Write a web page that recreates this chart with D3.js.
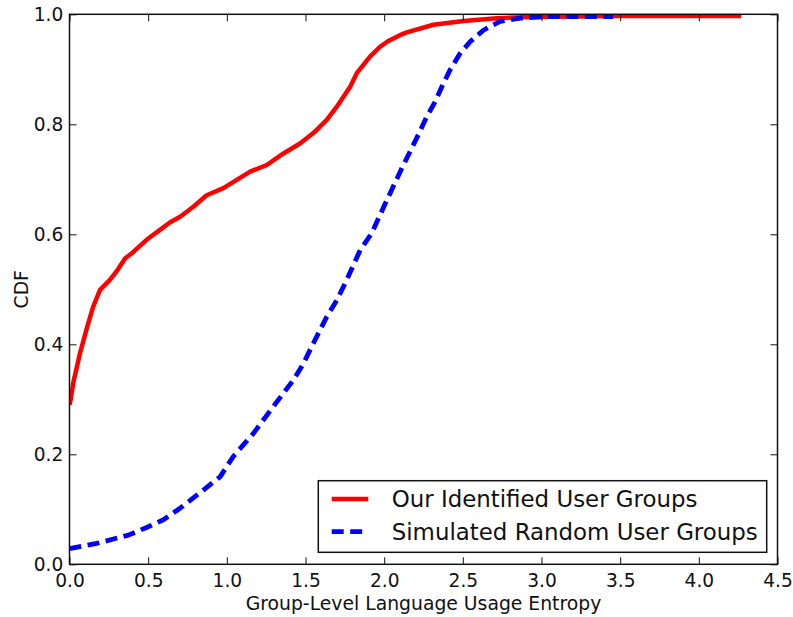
<!DOCTYPE html>
<html>
<head>
<meta charset="utf-8">
<script src="https://cdn.jsdelivr.net/npm/d3@7"></script>
<style>
  html, body { margin: 0; padding: 0; background: #fff; }
  svg { display: block; font-family: "DejaVu Sans", sans-serif; }
</style>
</head>
<body>
<svg id="chart" width="793" height="617"></svg>
<script>
// Empirical CDF of group-level language usage entropy
const seriesNames = ["Our Identified User Groups", "Simulated Random User Groups"];

const identifiedX = [0, 0.008, 0.024, 0.067, 0.113, 0.15, 0.194, 0.257, 0.3, 0.353, 0.406, 0.49, 0.575, 0.64,
  0.703, 0.787, 0.872, 0.978, 1.063, 1.148, 1.254, 1.36, 1.465, 1.55, 1.635, 1.699, 1.783, 1.826,
  1.91, 1.974, 2.03, 2.1, 2.144, 2.313, 2.504, 2.716, 2.93, 3.5, 4.27];
const identifiedY = [0.29, 0.30, 0.33, 0.384, 0.432, 0.468, 0.499, 0.517, 0.533, 0.556, 0.568, 0.59, 0.608, 0.622,
  0.632, 0.65, 0.671, 0.684, 0.699, 0.714, 0.726, 0.747, 0.765, 0.784, 0.808, 0.832, 0.868, 0.893,
  0.923, 0.941, 0.952, 0.962, 0.967, 0.981, 0.988, 0.993, 0.995, 0.997, 0.997];

const randomX = [0, 0.008, 0.173, 0.374, 0.49, 0.597, 0.703, 0.851, 0.957, 1.041, 1.169, 1.296, 1.423, 1.487,
  1.55, 1.635, 1.699, 1.762, 1.847, 1.921, 2.012, 2.112, 2.217, 2.271, 2.324, 2.366, 2.419, 2.483,
  2.546, 2.631, 2.737, 2.864, 3.034, 3.455];
const randomY = [0.028, 0.029, 0.038, 0.053, 0.067, 0.081, 0.102, 0.135, 0.159, 0.196, 0.238, 0.287, 0.335, 0.365,
  0.402, 0.45, 0.48, 0.517, 0.571, 0.602, 0.659, 0.72, 0.781, 0.814, 0.841, 0.868, 0.899, 0.929,
  0.95, 0.971, 0.987, 0.993, 0.996, 0.996];

const xTicks = [0, 0.5, 1.0, 1.5, 2.0, 2.5, 3.0, 3.5, 4.0, 4.5];
const yTicks = [0, 0.2, 0.4, 0.6, 0.8, 1.0];

const xLabel = "Group-Level Language Usage Entropy";
const yLabel = "CDF";

const plot = { left: 69.5, right: 777.5, top: 14.3, bottom: 564.3 };
const tickFont = 18.6, titleFont = 18.8, legendFont = 22.9, ink = "#111";

const svg = d3.select("#chart");
const x = d3.scaleLinear().domain([0, 4.5]).range([plot.left, plot.right]);
const y = d3.scaleLinear().domain([0, 1]).range([plot.bottom, plot.top]);

svg.append("defs").append("clipPath").attr("id", "plot-clip")
  .append("rect")
  .attr("x", plot.left).attr("y", plot.top)
  .attr("width", plot.right - plot.left).attr("height", plot.bottom - plot.top);

// Curves
const line = d3.line().x(d => x(d[0])).y(d => y(d[1]));
const series = [
  { name: seriesNames[0], pts: d3.zip(identifiedX, identifiedY), color: "#ff0000", dash: null, width: 4.5 },
  { name: seriesNames[1], pts: d3.zip(randomX, randomY), color: "#0000ff", dash: "12,6.5", width: 4.8 }
];
const curves = svg.append("g").attr("clip-path", "url(#plot-clip)");
series.forEach(s => {
  curves.append("path")
    .attr("d", line(s.pts))
    .attr("fill", "none")
    .attr("stroke", s.color)
    .attr("stroke-width", s.width)
    .attr("stroke-linejoin", "round")
    .attr("stroke-dasharray", s.dash);
});

// Axes with inward ticks on all four sides
const fmt = d3.format(".1f");
const tickLen = 7;
function styleAxis(g) {
  g.select(".domain").remove();
  g.selectAll(".tick line").attr("stroke", ink).attr("stroke-width", 1);
  g.selectAll(".tick text").attr("fill", ink).attr("font-size", tickFont)
    .attr("font-family", "DejaVu Sans, sans-serif");
}
svg.append("g").attr("transform", `translate(0,${plot.bottom})`)
  .call(d3.axisBottom(x).tickValues(xTicks).tickFormat(fmt).tickSizeInner(-tickLen).tickSizeOuter(0).tickPadding(9.2))
  .call(styleAxis);
svg.append("g").attr("transform", `translate(0,${plot.top})`)
  .call(d3.axisTop(x).tickValues(xTicks).tickFormat("").tickSizeInner(-tickLen).tickSizeOuter(0))
  .call(styleAxis);
svg.append("g").attr("transform", `translate(${plot.left},0)`)
  .call(d3.axisLeft(y).tickValues(yTicks).tickFormat(fmt).tickSizeInner(-tickLen).tickSizeOuter(0).tickPadding(6.2))
  .call(styleAxis);
svg.append("g").attr("transform", `translate(${plot.right},0)`)
  .call(d3.axisRight(y).tickValues(yTicks).tickFormat("").tickSizeInner(-tickLen).tickSizeOuter(0))
  .call(styleAxis);

// Frame
svg.append("rect")
  .attr("x", plot.left).attr("y", plot.top)
  .attr("width", plot.right - plot.left).attr("height", plot.bottom - plot.top)
  .attr("fill", "none").attr("stroke", ink).attr("stroke-width", 1.5);

// Axis titles
svg.append("text")
  .attr("x", (plot.left + plot.right) / 2).attr("y", 610)
  .attr("text-anchor", "middle").attr("font-size", titleFont).attr("fill", ink)
  .text(xLabel);
svg.append("text")
  .attr("transform", `translate(28.3,${(plot.top + plot.bottom) / 2}) rotate(-90)`)
  .attr("text-anchor", "middle").attr("font-size", titleFont).attr("fill", ink)
  .text(yLabel);

// Legend
const legend = svg.append("g");
legend.append("rect")
  .attr("x", 318.3).attr("y", 480.7).attr("width", 448.4).attr("height", 71.6)
  .attr("fill", "#fff").attr("stroke", ink).attr("stroke-width", 1.5);
series.forEach((s, i) => {
  const ry = 499 + i * 32.7;
  legend.append("line")
    .attr("x1", 331.7).attr("x2", 368.3).attr("y1", ry).attr("y2", ry)
    .attr("stroke", s.color).attr("stroke-width", s.width)
    .attr("stroke-dasharray", s.dash);
  legend.append("text")
    .attr("x", 391.7).attr("y", ry).attr("dy", "0.36em")
    .attr("font-size", legendFont).attr("fill", ink)
    .text(s.name);
});
</script>
</body>
</html>
